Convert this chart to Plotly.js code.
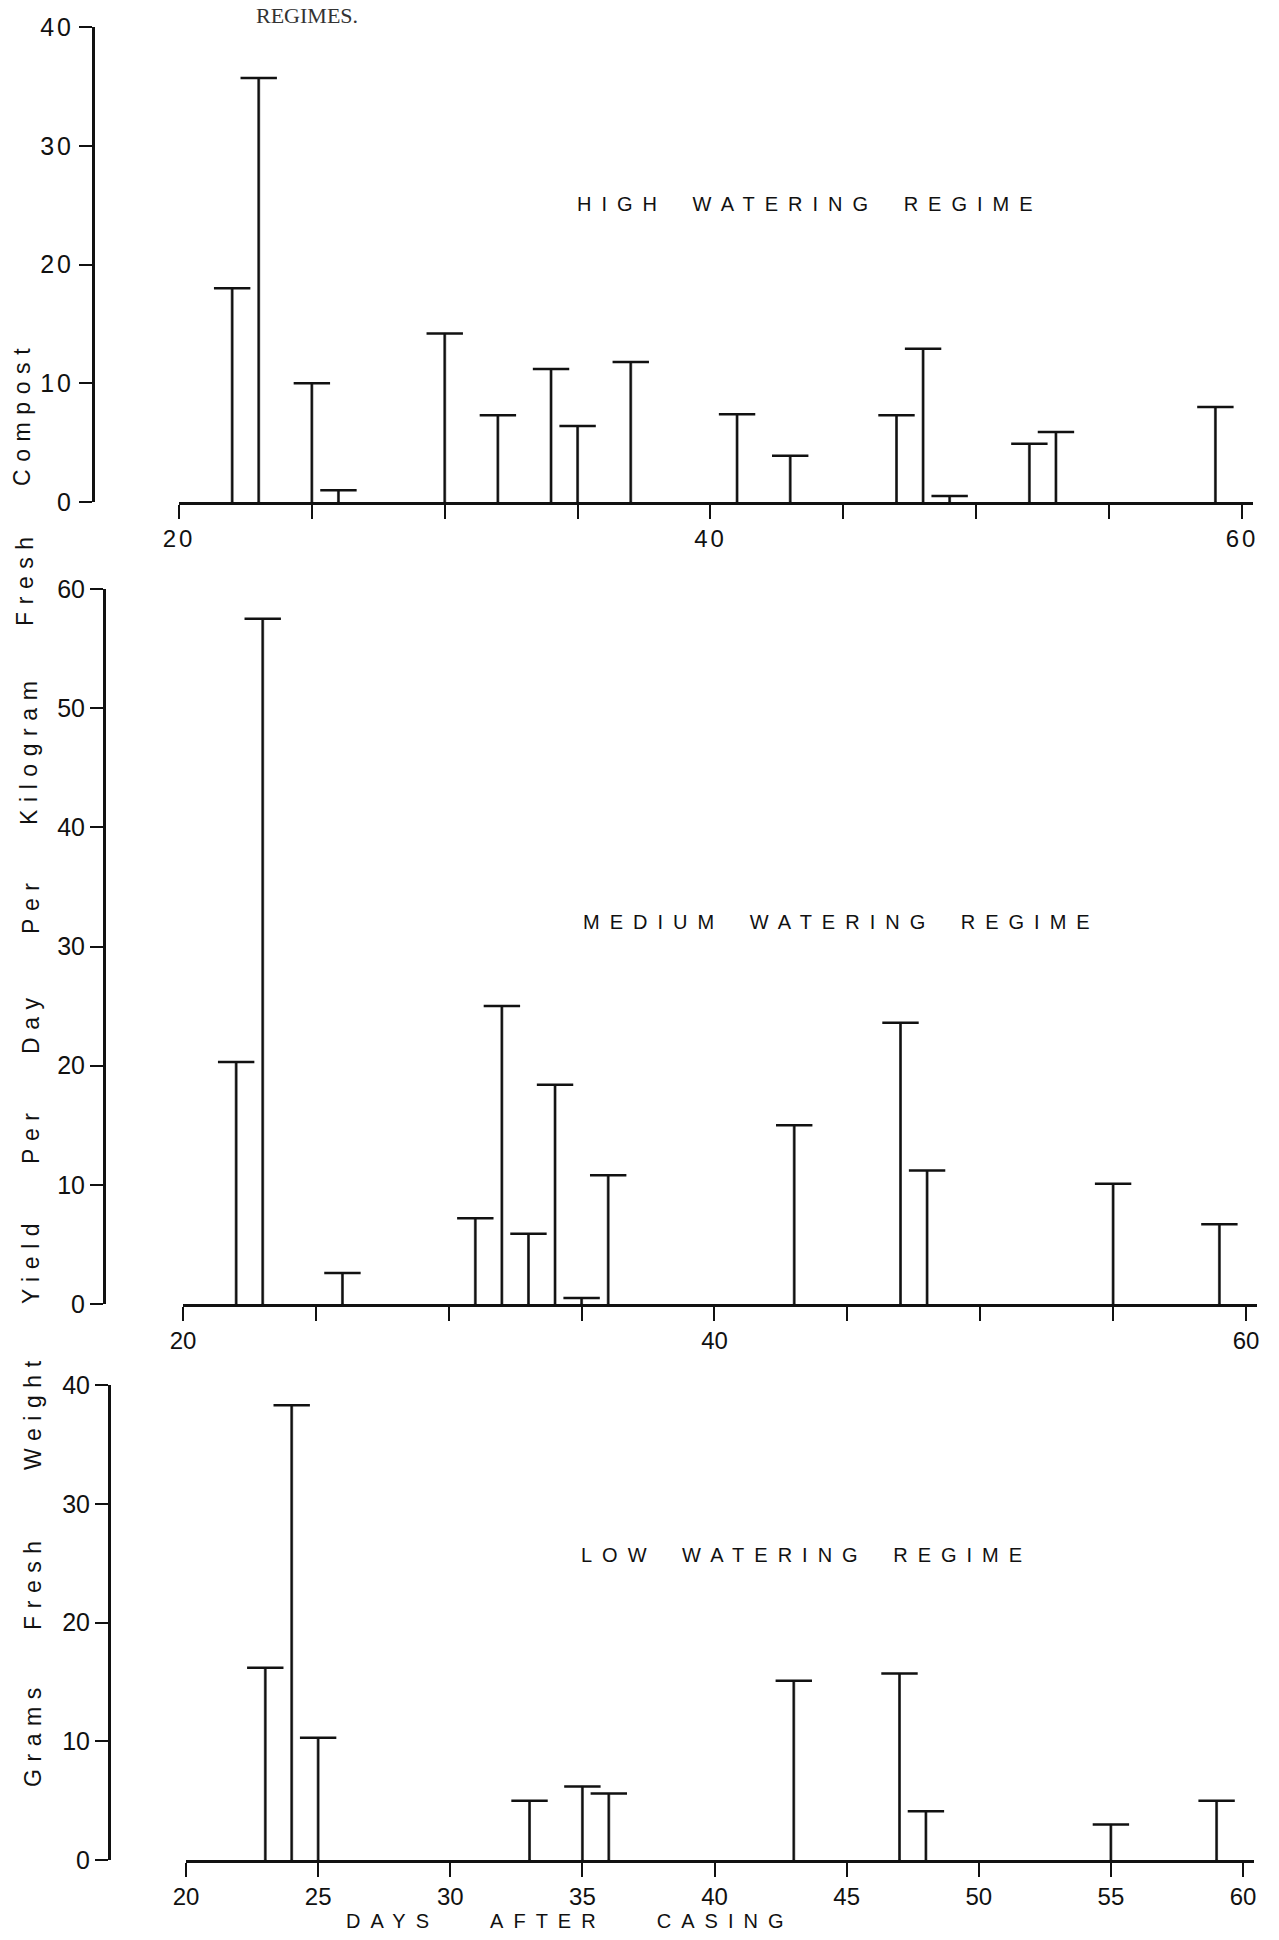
<!DOCTYPE html>
<html>
<head>
<meta charset="utf-8">
<script src="https://cdn.plot.ly/plotly-3.0.1.min.js"></script>
<style>
  html, body { margin: 0; padding: 0; background: #ffffff; }
  #chart { width: 1279px; height: 1940px; }
  .annotation-text { letter-spacing: 0.5em; word-spacing: 0.5em; }
  .annotation-text[style*="font-size: 23px"] { letter-spacing: 0.33em; }
  .annotation-text[style*="Serif"] { letter-spacing: 0; word-spacing: 0; }
  .xtick text, .ytick text { letter-spacing: 0.12em; }
</style>
</head>
<body>
<div id="chart"></div>
<script>
// ---- Data ----
const dayTicks = [20, 25, 30, 35, 40, 45, 50, 55, 60];
const dayTickTextSparse = ['20', '', '', '', '40', '', '', '', '60'];
const dayTickTextFull = ['20', '25', '30', '35', '40', '45', '50', '55', '60'];

const highDays  = [22, 23, 25, 26, 30, 32, 34, 35, 37, 41, 43, 47, 48, 49, 52, 53, 59];
const highYield = [18.0, 35.7, 10.0, 1.0, 14.2, 7.3, 11.2, 6.4, 11.8, 7.4, 3.9, 7.3, 12.9, 0.5, 4.9, 5.9, 8.0];

const medDays  = [22, 23, 26, 31, 32, 33, 34, 35, 36, 43, 47, 48, 55, 59];
const medYield = [20.3, 57.5, 2.6, 7.2, 25.0, 5.9, 18.4, 0.5, 10.8, 15.0, 23.6, 11.2, 10.1, 6.7];

const lowDays  = [23, 24, 25, 33, 35, 36, 43, 47, 48, 55, 59];
const lowYield = [16.2, 38.3, 10.3, 5.0, 6.2, 5.6, 15.1, 15.7, 4.1, 3.0, 5.0];

const highYTicks = [0, 10, 20, 30, 40];
const medYTicks  = [0, 10, 20, 30, 40, 50, 60];
const lowYTicks  = [0, 10, 20, 30, 40];

const panelTitles = ['HIGH WATERING REGIME', 'MEDIUM WATERING REGIME', 'LOW WATERING REGIME'];
const xTitle = 'DAYS\u00a0\u00a0AFTER\u00a0\u00a0CASING';
const yWordsUpper = ['Yield', 'Per', 'Day', 'Per', 'Kilogram', 'Fresh', 'Compost'];
const yWordsLower = ['Grams', 'Fresh', 'Weight'];
const captionFragment = 'REGIMES.';

// ---- Layout helpers (pixel -> paper fraction) ----
const W = 1279, H = 1940;
const px = v => v / W;
const py = v => 1 - v / H;
const INK = '#111111';
const FONT = 'Liberation Sans, Arial, sans-serif';

function stems(xs, ys, xa, ya) {
  return [
    { type: 'bar', x: xs, y: ys, width: 0.075, xaxis: xa, yaxis: ya,
      marker: { color: INK, line: { width: 0.6, color: INK } }, hoverinfo: 'skip', showlegend: false },
    { type: 'scatter', mode: 'markers', x: xs, y: ys, xaxis: xa, yaxis: ya, cliponaxis: false,
      marker: { symbol: 'line-ew', size: 26, color: INK, line: { width: 2.5, color: INK } },
      hoverinfo: 'skip', showlegend: false }
  ];
}

const data = [].concat(
  stems(highDays, highYield, 'x', 'y'),
  stems(medDays, medYield, 'x2', 'y2'),
  stems(lowDays, lowYield, 'x3', 'y3')
);

function xAxis(dom, anchor, texts) {
  return {
    domain: dom, anchor: anchor, range: [20, 60.4],
    showline: true, linewidth: 2.5, linecolor: INK,
    ticks: 'outside', ticklen: 14, tickwidth: 2, tickcolor: INK,
    tickmode: 'array', tickvals: dayTicks, ticktext: texts,
    showgrid: false, zeroline: false,
    tickfont: { family: FONT, size: 24, color: INK }
  };
}
function yAxis(dom, pos, rng, ticks) {
  return {
    domain: dom, anchor: 'free', position: pos, range: rng,
    showline: true, linewidth: 3, linecolor: INK,
    ticks: 'outside', ticklen: 13, tickwidth: 2, tickcolor: INK,
    tickmode: 'array', tickvals: ticks, ticklabelstandoff: 0,
    showgrid: false, zeroline: false,
    tickfont: { family: FONT, size: 25, color: INK }
  };
}

const annotations = [];
function addText(text, x, y, opts) {
  annotations.push(Object.assign({
    text: text, xref: 'paper', yref: 'paper', x: px(x), y: py(y),
    showarrow: false, xanchor: 'center', yanchor: 'middle',
    font: { family: FONT, size: 23, color: INK }
  }, opts || {}));
}

// panel titles
const titleFont = { family: FONT, size: 20, color: INK };
addText(panelTitles[0], 575, 204, { xanchor: 'left', font: titleFont });
addText(panelTitles[1], 581, 922, { xanchor: 'left', font: titleFont });
addText(panelTitles[2], 579, 1555, { xanchor: 'left', font: titleFont });
// x axis title
addText(xTitle, 344, 1921, { xanchor: 'left', font: titleFont });
// caption fragment at top
addText(captionFragment, 254, 1, { xanchor: 'left', yanchor: 'top',
  font: { family: 'Liberation Serif, DejaVu Serif, serif', size: 22, color: '#333333' } });

// rotated y-axis title words (reading bottom to top)
const upperPos = [[31, 1260], [31, 1135], [31, 1022], [31, 905], [29, 750], [25, 578], [22, 414]];
yWordsUpper.forEach((w, i) => addText(w, upperPos[i][0], upperPos[i][1], { textangle: -90 }));
const lowerPos = [[33, 1734], [33, 1582], [33, 1412]];
yWordsLower.forEach((w, i) => addText(w, lowerPos[i][0], lowerPos[i][1], { textangle: -90 }));

const layout = {
  width: W, height: H,
  margin: { l: 0, r: 0, t: 0, b: 0 },
  paper_bgcolor: '#ffffff', plot_bgcolor: 'rgba(0,0,0,0)',
  showlegend: false, bargap: 0,
  font: { family: FONT, color: INK },
  xaxis:  xAxis([px(179), px(1252.6)], 'y', dayTickTextSparse),
  yaxis:  yAxis([py(502), py(27)], px(93), [0, 40], highYTicks),
  xaxis2: xAxis([px(183), px(1256.6)], 'y2', dayTickTextSparse),
  yaxis2: yAxis([py(1304), py(589)], px(104), [0, 60], medYTicks),
  xaxis3: xAxis([px(186), px(1253.6)], 'y3', dayTickTextFull),
  yaxis3: yAxis([py(1860), py(1385)], px(109), [0, 40], lowYTicks),
  annotations: annotations
};

Plotly.newPlot('chart', data, layout, { displayModeBar: false, staticPlot: true });
</script>
</body>
</html>
